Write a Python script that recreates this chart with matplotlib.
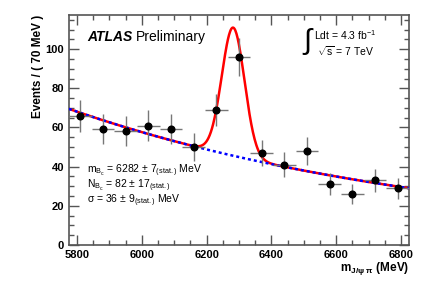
import numpy as np
import matplotlib
matplotlib.use("Agg")
from matplotlib import pyplot as plt
from matplotlib.ticker import MultipleLocator

plt.rcParams["font.family"] = ["Liberation Sans", "DejaVu Sans"]
plt.rcParams["mathtext.fontset"] = "custom"
plt.rcParams["mathtext.rm"] = "Liberation Sans"
plt.rcParams["mathtext.it"] = "Liberation Sans:italic"
plt.rcParams["mathtext.bf"] = "Liberation Sans:bold"

# binned data, 70 MeV bins
bin_centers = [5810, 5880, 5950, 6020, 6090, 6160, 6230, 6300,
               6370, 6440, 6510, 6580, 6650, 6720, 6790]
counts = [66, 59, 58, 61, 59, 50, 69, 96, 47, 41, 48, 31, 26, 33, 29]
bin_width = 70

# fit result: exponential background + gaussian signal
bkg_start = 69.5   # events/bin at 5775
bkg_end = 29.0     # events/bin at 6825
sig_mass = 6282
sig_yield = 82
sig_width = 35

x_lo, x_hi = 5775, 6825

fig = plt.figure(figsize=(4.31, 2.92), dpi=100)
ax = fig.add_axes([0.160, 0.161, 0.789, 0.788])

xs = np.linspace(x_lo, x_hi, 600)
slope = np.log(bkg_start / bkg_end) / (x_hi - x_lo)
bkg = bkg_start * np.exp(-slope * (xs - x_lo))
sig = sig_yield * bin_width / (sig_width * np.sqrt(2 * np.pi)) * np.exp(-0.5 * ((xs - sig_mass) / sig_width) ** 2)

ax.plot(xs, bkg + sig, color="#ff0000", lw=1.8, zorder=2)
ax.plot(xs, bkg, color="#0000ff", lw=1.8, ls=(0, (1.2, 1.2)), zorder=3)

yerr = np.sqrt(counts)
ax.errorbar(bin_centers, counts, xerr=bin_width / 2, yerr=yerr, fmt="o",
            color="black", ms=4.8, ecolor="#777777", elinewidth=1.0,
            capsize=0, zorder=4)

ax.set_xlim(x_lo, x_hi)
ax.set_ylim(0, 117.5)
ax.xaxis.set_major_locator(MultipleLocator(200))
ax.xaxis.set_minor_locator(MultipleLocator(50))
ax.yaxis.set_major_locator(MultipleLocator(20))
ax.yaxis.set_minor_locator(MultipleLocator(5))
ax.tick_params(which="both", direction="in", top=True, right=True,
               color="#555555", labelsize=8)
ax.tick_params(which="major", length=7, width=1.0)
ax.tick_params(which="minor", length=3.5, width=1.0)
for lab in ax.get_xticklabels() + ax.get_yticklabels():
    lab.set_fontweight("bold")
for sp in ax.spines.values():
    sp.set_color("#555555")
    sp.set_linewidth(1.2)

ax.set_ylabel("Events / ( 70 MeV )", fontsize=8.5, fontweight="bold",
              loc="top", labelpad=1)
ax.set_xlabel(r"$\mathbf{m}_{\mathbf{J/ψ\ π}}$ (MeV)", fontsize=8.5,
              fontweight="bold", loc="right", labelpad=0)

ax.text(0.053, 0.885, "ATLAS", transform=ax.transAxes, fontsize=10,
        fontweight="bold", fontstyle="italic")
ax.text(0.197, 0.885, "Preliminary", transform=ax.transAxes, fontsize=10)

ax.text(0.69, 0.85, "∫", transform=ax.transAxes, fontsize=21,
        family=["Liberation Sans", "DejaVu Sans"])
ax.text(0.722, 0.89, r"Ldt = 4.3 fb$^{-1}$", transform=ax.transAxes, fontsize=7.5)
ax.text(0.73, 0.82, r"$\sqrt{\rm s}$ = 7 TeV", transform=ax.transAxes, fontsize=7.5)

ax.text(0.053, 0.31, r"m$_{\rm B_c}$ = 6282 ± 7$_{\rm (stat.)}$ MeV",
        transform=ax.transAxes, fontsize=7.5)
ax.text(0.053, 0.245, r"N$_{\rm B_c}$ = 82 ± 17$_{\rm (stat.)}$",
        transform=ax.transAxes, fontsize=7.5)
ax.text(0.053, 0.18, r"σ = 36 ± 9$_{\rm (stat.)}$ MeV",
        transform=ax.transAxes, fontsize=7.5)

fig.savefig("out.png", dpi=100)
